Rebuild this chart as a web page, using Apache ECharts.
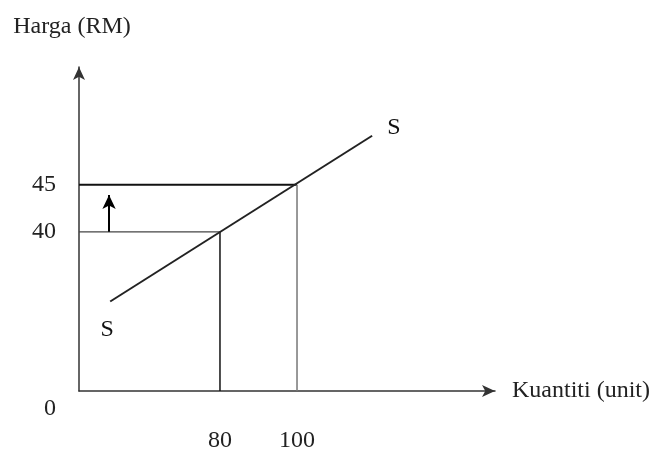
<!DOCTYPE html>
<html>
<head>
<meta charset="utf-8">
<script src="https://cdn.jsdelivr.net/npm/echarts@6/dist/echarts.min.js"></script>
<style>
  html, body { margin: 0; padding: 0; background: #fff; }
  #chart { width: 654px; height: 457px; }
</style>
</head>
<body>
<div id="chart"></div>
<script>
  // schematic axis ranges (the axes don't start at zero in the diagram)
  var xRange = [43.4, 151.4];
  var yRange = [23.1, 57.5];

  // tick labels
  var xTicks = [80, 100];
  var yTicks = [40, 45];

  // supply curve S
  var supplyX = [51.5, 119.5];
  var supplyY = [32.6, 50.2];
  var supplyLabels = ['S', 'S'];

  // equilibrium points
  var pointQ = [80, 100];
  var pointP = [40, 45];

  // price rise arrow (from 40 towards 45)
  var arrowX = 51.2;
  var arrowY = [40, 43.9];

  var font = 'Liberation Serif';
  var chart = echarts.init(document.getElementById('chart'));

  var labelData = supplyX.map(function (x, i) {
    return {
      value: [x, supplyY[i]],
      label: i === 0
        ? { position: 'bottom', distance: 15, offset: [-3, 0] }
        : { position: 'right', distance: 14, offset: [0, -8] }
    };
  });

  var guides = [];
  for (var i = 0; i < pointQ.length; i++) {
    // horizontal guide to the y axis
    guides.push({
      type: 'line',
      data: [[xRange[0], pointP[i]], [pointQ[i], pointP[i]]],
      symbol: 'none',
      lineStyle: { color: i === 1 ? '#111' : '#444', width: i === 1 ? 2 : 1.2 },
      silent: true
    });
    // vertical guide to the x axis
    guides.push({
      type: 'line',
      data: [[pointQ[i], yRange[0]], [pointQ[i], pointP[i]]],
      symbol: 'none',
      lineStyle: { color: i === 0 ? '#111' : '#777', width: 1.5 },
      silent: true
    });
  }

  var option = {
    backgroundColor: '#fff',
    animation: false,
    grid: { left: 79, right: 159, top: 67, bottom: 66 },
    xAxis: {
      type: 'value',
      min: xRange[0],
      max: xRange[1],
      name: 'Kuantiti (unit)',
      nameLocation: 'end',
      nameGap: 17,
      nameTextStyle: { fontFamily: font, fontSize: 24, color: '#222' },
      axisLine: {
        lineStyle: { color: '#333', width: 1.5 },
        symbol: ['none', 'arrow'],
        symbolSize: [9, 13]
      },
      axisTick: { show: false },
      splitLine: { show: false },
      axisLabel: {
        customValues: xTicks,
        margin: 38,
        fontFamily: font,
        fontSize: 24,
        color: '#222'
      }
    },
    yAxis: {
      type: 'value',
      min: yRange[0],
      max: yRange[1],
      name: 'Harga (RM)',
      nameLocation: 'end',
      nameGap: 28,
      nameTextStyle: { fontFamily: font, fontSize: 24, color: '#222', padding: [0, 14, 0, 0] },
      axisLine: {
        lineStyle: { color: '#333', width: 1.5 },
        symbol: ['none', 'arrow'],
        symbolSize: [9, 13]
      },
      axisTick: { show: false },
      splitLine: { show: false },
      axisLabel: {
        customValues: yTicks,
        margin: 23,
        fontFamily: font,
        fontSize: 24,
        color: '#222'
      }
    },
    graphic: [{
      type: 'text',
      left: 44,
      top: 397,
      style: { text: '0', fontFamily: font, fontSize: 24, fill: '#222' }
    }],
    series: guides.concat([{
      type: 'line',
      data: supplyX.map(function (x, i) { return [x, supplyY[i]]; }),
      symbol: 'none',
      lineStyle: { color: '#222', width: 2 },
      silent: true
    }, {
      type: 'scatter',
      data: labelData,
      symbol: 'circle',
      symbolSize: 2,
      itemStyle: { color: 'rgba(0,0,0,0)', opacity: 1 },
      label: {
        show: true,
        formatter: function (p) { return supplyLabels[p.dataIndex]; },
        fontFamily: font,
        fontSize: 24,
        color: '#111',
        opacity: 1
      },
      silent: true
    }, {
      type: 'line',
      data: [],
      symbol: 'none',
      markLine: {
        silent: true,
        symbol: ['none', 'arrow'],
        symbolSize: [10, 14],
        label: { show: false },
        lineStyle: { color: '#000', width: 2, type: 'solid' },
        data: [[{ coord: [arrowX, arrowY[0]] }, { coord: [arrowX, arrowY[1]] }]]
      },
      silent: true
    }])
  };

  chart.setOption(option);
</script>
</body>
</html>
